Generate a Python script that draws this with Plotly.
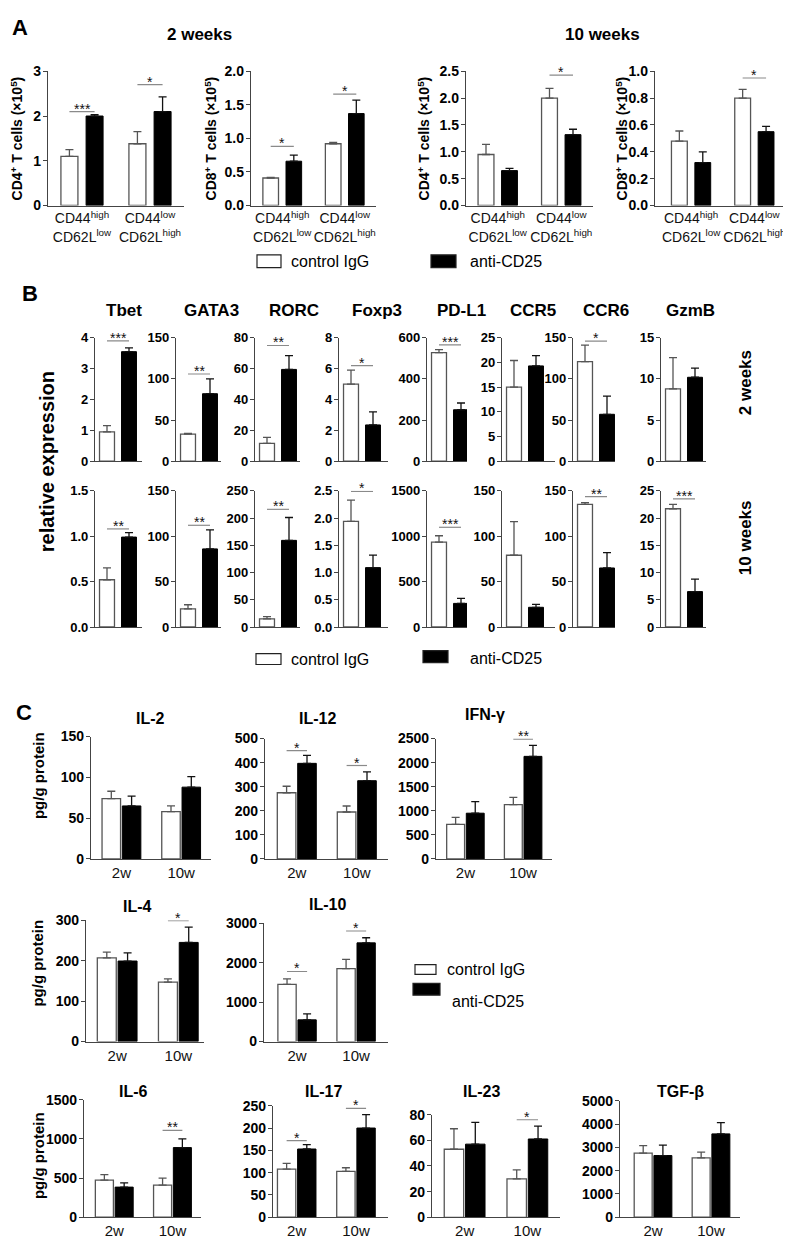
import plotly.graph_objects as go

W, H = 791, 1238
FONT = "Arial, Liberation Sans, sans-serif"
AX = "#444444"      # axis colour
CL = "#555555"      # control bar outline / error bars
SIGC = "#8a8a8a"    # significance line

# ------------------------------------------------------------------ data
# Panel A
A_groups = ["CD44<sup>high</sup><br>CD62L<sup>low</sup>", "CD44<sup>low</sup><br>CD62L<sup>high</sup>"]
A_ylabels = ["CD4<sup>+</sup> T cells (×10<sup>5</sup>)", "CD8<sup>+</sup> T cells (×10<sup>5</sup>)",
             "CD4<sup>+</sup> T cells (×10<sup>5</sup>)", "CD8<sup>+</sup> T cells (×10<sup>5</sup>)"]
A_ctrl = [[1.10, 1.38], [0.41, 0.92], [0.95, 2.00], [0.48, 0.80]]
A_ctrl_err = [[0.15, 0.27], [0.01, 0.02], [0.19, 0.18], [0.075, 0.065]]
A_anti = [[2.00, 2.10], [0.66, 1.37], [0.65, 1.32], [0.32, 0.55]]
A_anti_err = [[0.03, 0.33], [0.09, 0.20], [0.04, 0.10], [0.08, 0.04]]
A_ymax = [3, 2, 2.5, 1]
A_dtick = [1, 0.5, 0.5, 0.2]
A_fmt = ["d", ".1f", ".1f", ".1f"]
A_sig = [(0, 0, 2.1, "***"), (0, 1, 2.7, "*"), (1, 0, 0.88, "*"), (1, 1, 1.66, "*"),
         (2, 1, 2.43, "*"), (3, 1, 0.95, "*")]

# Panel B
B_genes = ["Tbet", "GATA3", "RORC", "Foxp3", "PD-L1", "CCR5", "CCR6", "GzmB"]
B_treat = ["control IgG", "anti-CD25"]
B2_ctrl = [0.95, 33, 11.5, 5.0, 528, 15, 121, 8.8]
B2_ctrl_err = [0.2, 0.8, 3.9, 0.9, 14, 5.4, 20, 3.8]
B2_anti = [3.55, 82, 59.5, 2.35, 250, 19.3, 57, 10.2]
B2_anti_err = [0.12, 18, 9, 0.85, 33, 2.1, 22, 1.1]
B2_ymax = [4, 150, 80, 8, 600, 25, 150, 15]
B2_dtick = [1, 50, 20, 2, 200, 5, 50, 5]
B2_fmt = ["d"] * 8
B2_sig = [(0, 3.9, "***"), (1, 106, "**"), (2, 75, "**"), (3, 6.2, "*"), (4, 566, "***"), (6, 146, "*")]

B10_ctrl = [0.52, 20, 15, 1.94, 935, 79, 135, 21.7]
B10_ctrl_err = [0.13, 4.5, 4, 0.39, 70, 37, 2, 0.8]
B10_anti = [0.99, 86, 159, 1.09, 260, 21.7, 65, 6.5]
B10_anti_err = [0.05, 21, 42, 0.23, 55, 3.3, 17, 2.3]
B10_ymax = [1.5, 150, 250, 2.5, 1500, 150, 150, 25]
B10_dtick = [0.5, 50, 50, 0.5, 500, 50, 50, 5]
B10_fmt = [".1f", "d", "d", ".1f", "d", "d", "d", "d"]
B10_sig = [(0, 1.08, "**"), (1, 112, "**"), (2, 216, "**"), (3, 2.5, "*"), (4, 1098, "***"),
           (6, 143.5, "**"), (7, 23.5, "***")]

# Panel C
C_cyt = ["IL-2", "IL-12", "IFN-γ", "IL-4", "IL-10", "IL-6", "IL-17", "IL-23", "TGF-β"]
C_groups = ["2w", "10w"]
C_ctrl = [[74, 58], [275, 195], [720, 1130], [207, 147], [1450, 1850], [475, 410], [108, 103], [53, 30], [2750, 2550]]
C_ctrl_err = [[9, 7], [27, 25], [145, 150], [14, 8], [140, 230], [70, 90], [13, 8], [16, 7], [330, 250]]
C_anti = [[65, 88], [397, 325], [950, 2130], [199, 245], [550, 2500], [385, 890], [153, 200], [57, 61], [2650, 3580]]
C_anti_err = [[12, 13], [33, 37], [240, 230], [20, 38], [150, 130], [55, 110], [10, 30], [17, 10], [450, 480]]
C_ymax = [150, 500, 2500, 300, 3000, 1500, 250, 80, 5000]
C_dtick = [50, 100, 500, 100, 1000, 500, 50, 20, 1000]
C_sig = [(1, 0, 450, "*"), (1, 1, 388, "*"), (2, 1, 2530, "**"), (3, 1, 302, "*"), (4, 0, 1775, "*"),
         (4, 1, 2800, "*"), (5, 1, 1110, "**"), (6, 0, 172, "*"), (6, 1, 244, "*"), (7, 1, 76, "*")]

# ------------------------------------------------------------------ layout geometry (pixels)
A_box = [(40, 176, 56, 192), (243, 368, 56, 192), (458, 585, 56, 192), (647, 778, 56, 192)]
A_xr = [[-0.5, 1.5], [-0.5, 1.5], [-0.5, 1.5], [-0.57, 1.5]]
A_ytx = [9, 203, 416, 614]
A_w, A_gap = 0.25, 0.12

B_x0 = [87, 168, 247, 331, 419, 494, 565, 653]
B_x1 = [134, 213, 292, 380, 459, 547, 607, 698]
B_tx = [116, 203, 286, 369, 454, 525, 598, 682]
B_rows = [(326, 451), (481, 619)]
B_w = 0.68

C_box = [(83, 203, 730, 854), (257, 380, 732, 854), (428, 544, 732, 854),
         (78, 196, 916, 1039), (256, 380, 919, 1039),
         (76, 193, 1098, 1217), (265, 380, 1104, 1217), (424, 552, 1113, 1217), (612, 732, 1099, 1217)]
C_xr = [[-0.51, 1.5], [-0.53, 1.52], [-0.51, 1.5], [-0.51, 1.42], [-0.56, 1.54],
        [-0.52, 1.49], [-0.4, 1.54], [-0.52, 1.52], [-0.57, 1.5]]
C_title = [(142, 712), (309, 712), (477, 708), (129, 902), (319, 900), (125, 1090), (315, 1090), (473, 1090), (672, 1090)]
C_w, C_gap = 0.31, 0.03

# ------------------------------------------------------------------ helpers
fig = go.Figure()
lay = {}
anns = []
shps = []
count = [0]


def P(x, y):
    return x / W, 1 - y / H


def text_at(x, y, s, size, bold=False, angle=0, xanchor="center", yanchor="middle", color="#000"):
    xx, yy = P(x, y)
    anns.append(dict(xref="paper", yref="paper", x=xx, y=yy, text=f"<b>{s}</b>" if bold else s,
                     showarrow=False, textangle=angle, xanchor=xanchor, yanchor=yanchor,
                     font=dict(family=FONT, size=size, color=color)))


def rect(x0, y0, x1, y1, fill):
    a0, b0 = P(x0, y0)
    a1, b1 = P(x1, y1)
    shps.append(dict(type="rect", xref="paper", yref="paper", x0=a0, y0=b1, x1=a1, y1=b0,
                     fillcolor=fill, line=dict(color="#222", width=1.2)))


def axes(box, xrange, ymax, dtick, fmt, tsize, xlabels=False, xsize=14):
    count[0] += 1
    k = count[0]
    s = "" if k == 1 else str(k)
    x0, x1, yt, yb = box
    xa = dict(domain=[x0 / W, x1 / W], anchor="y" + s, type="category", range=xrange,
              showgrid=False, zeroline=False, showline=True, linecolor=AX, linewidth=1.3,
              ticks="", showticklabels=xlabels, fixedrange=True)
    if xlabels:
        xa.update(tickangle=0, tickfont=dict(family=FONT, size=xsize, color="#111"))
    lay["xaxis" + s] = xa
    nt = int(round(ymax / dtick))
    tv = [round(i * dtick, 6) for i in range(nt + 1)]
    lay["yaxis" + s] = dict(domain=[1 - yb / H, 1 - yt / H], anchor="x" + s, range=[0, ymax],
                            tickmode="array", tickvals=tv, tickformat=fmt, showgrid=False,
                            zeroline=False, showline=True, linecolor=AX, linewidth=1.3,
                            ticks="outside", ticklen=4, tickwidth=1.2, tickcolor=AX, fixedrange=True,
                            ticklabelstandoff=-1,
                            tickfont=dict(family=FONT, size=tsize, color="#000", weight="bold"))
    return "x" + s, "y" + s


def bar_pair(xr, yr, xc, yc, ec, xa, ya, ea, width, off_c=None, off_a=None):
    kc = dict(width=width)
    ka = dict(width=width)
    if off_c is not None:
        kc["offset"] = off_c
        ka["offset"] = off_a
    fig.add_trace(go.Bar(x=xc, y=yc, xaxis=xr, yaxis=yr, showlegend=False, hoverinfo="skip",
                         marker=dict(color="white", line=dict(color=CL, width=1.3)),
                         error_y=dict(type="data", symmetric=False, array=ec, arrayminus=[0] * len(ec),
                                      color=CL, thickness=1.3, width=4), **kc))
    fig.add_trace(go.Bar(x=xa, y=ya, xaxis=xr, yaxis=yr, showlegend=False, hoverinfo="skip",
                         marker=dict(color="black", line=dict(color="black", width=1.0)),
                         error_y=dict(type="data", symmetric=False, array=ea, arrayminus=[0] * len(ea),
                                      color="#111", thickness=1.3, width=4), **ka))


def sig(xr, yr, xc, xa, y, label, ymax):
    yy = min(y, ymax * 0.995)
    shps.append(dict(type="line", xref=xr, yref=yr, x0=xc, x1=xa, y0=yy, y1=yy,
                     line=dict(color=SIGC, width=1.2)))
    anns.append(dict(xref=xr, yref=yr, x=(xc + xa) / 2, y=yy, text=label, showarrow=False,
                     yanchor="bottom", yshift=-7, font=dict(family=FONT, size=14, color="#111")))


# ------------------------------------------------------------------ panel A
A_refs = []
for i in range(4):
    xr, yr = axes(A_box[i], A_xr[i], A_ymax[i], A_dtick[i], A_fmt[i], 14, xlabels=True, xsize=14)
    A_refs.append((xr, yr))
    bar_pair(xr, yr, A_groups, A_ctrl[i], A_ctrl_err[i], A_groups, A_anti[i], A_anti_err[i],
             A_w, -(A_w + A_gap / 2), A_gap / 2)
    text_at(A_ytx[i], 124, A_ylabels[i], 14, bold=True, angle=-90)
for (i, g, y, lab) in A_sig:
    xr, yr = A_refs[i]
    sig(xr, yr, g - A_gap / 2 - A_w / 2, g + A_gap / 2 + A_w / 2, y, lab, A_ymax[i])

text_at(12, 12, "A", 22, bold=True)
text_at(191, 19, "2 weeks", 17, bold=True)
text_at(594, 19, "10 weeks", 17, bold=True)
rect(249, 242, 273, 255, "white")
text_at(281, 249, "control IgG", 16, xanchor="left")
rect(423, 242, 448, 255, "black")
text_at(460, 249, "anti-CD25", 16, xanchor="left")

# ------------------------------------------------------------------ panel B
rows = [(B2_ctrl, B2_ctrl_err, B2_anti, B2_anti_err, B2_ymax, B2_dtick, B2_fmt, B2_sig),
        (B10_ctrl, B10_ctrl_err, B10_anti, B10_anti_err, B10_ymax, B10_dtick, B10_fmt, B10_sig)]
for r, (c, ce, a, ae, ym, dt, fm, sg) in enumerate(rows):
    yt, yb = B_rows[r]
    refs = []
    for j in range(8):
        rng = [-12 / 22, 1 + (B_x1[j] - B_x0[j] - 34) / 22]
        xr, yr = axes((B_x0[j], B_x1[j], yt, yb), rng, ym[j], dt[j], fm[j], 13)
        refs.append((xr, yr))
        bar_pair(xr, yr, [B_treat[0]], [c[j]], [ce[j]], [B_treat[1]], [a[j]], [ae[j]], B_w)
    for (j, y, lab) in sg:
        xr, yr = refs[j]
        sig(xr, yr, 0, 1, y, lab, ym[j])

text_at(22, 281, "B", 22, bold=True)
for j in range(8):
    text_at(B_tx[j], 298, B_genes[j], 17, bold=True)
text_at(39, 452, "relative expression", 20, bold=True, angle=-90)
text_at(737, 372, "2 weeks", 17, bold=True, angle=-90)
text_at(737, 529, "10 weeks", 17, bold=True, angle=-90)
rect(248, 646, 273, 657, "white")
text_at(281, 652, "control IgG", 16, xanchor="left")
rect(415, 643, 440, 655, "black")
text_at(460, 651, "anti-CD25", 16, xanchor="left")

# ------------------------------------------------------------------ panel C
C_refs = []
for i in range(9):
    xr, yr = axes(C_box[i], C_xr[i], C_ymax[i], C_dtick[i], "d", 14, xlabels=True, xsize=15)
    C_refs.append((xr, yr))
    bar_pair(xr, yr, C_groups, C_ctrl[i], C_ctrl_err[i], C_groups, C_anti[i], C_anti_err[i],
             C_w, -(C_w + C_gap / 2), C_gap / 2)
    text_at(C_title[i][0], C_title[i][1], C_cyt[i], 16, bold=True)
for (i, g, y, lab) in C_sig:
    xr, yr = C_refs[i]
    sig(xr, yr, g - C_gap / 2 - C_w / 2, g + C_gap / 2 + C_w / 2, y, lab, C_ymax[i])

text_at(16, 706, "C", 22, bold=True)
for yc in (770, 960, 1155):
    text_at(30, yc, "pg/g protein", 15, bold=True, angle=-90)
rect(407, 961, 428, 971, "white")
text_at(437, 966, "control IgG", 16, xanchor="left")
rect(405, 980, 432, 992, "black")
text_at(442, 998, "anti-CD25", 16, xanchor="left")

fig.update_layout(width=W, height=H, margin=dict(l=0, r=0, t=0, b=0),
                  paper_bgcolor="white", plot_bgcolor="rgba(0,0,0,0)", barmode="overlay",
                  showlegend=False, annotations=anns, shapes=shps,
                  font=dict(family=FONT, color="#000"), **lay)
fig.write_html("out.html")
